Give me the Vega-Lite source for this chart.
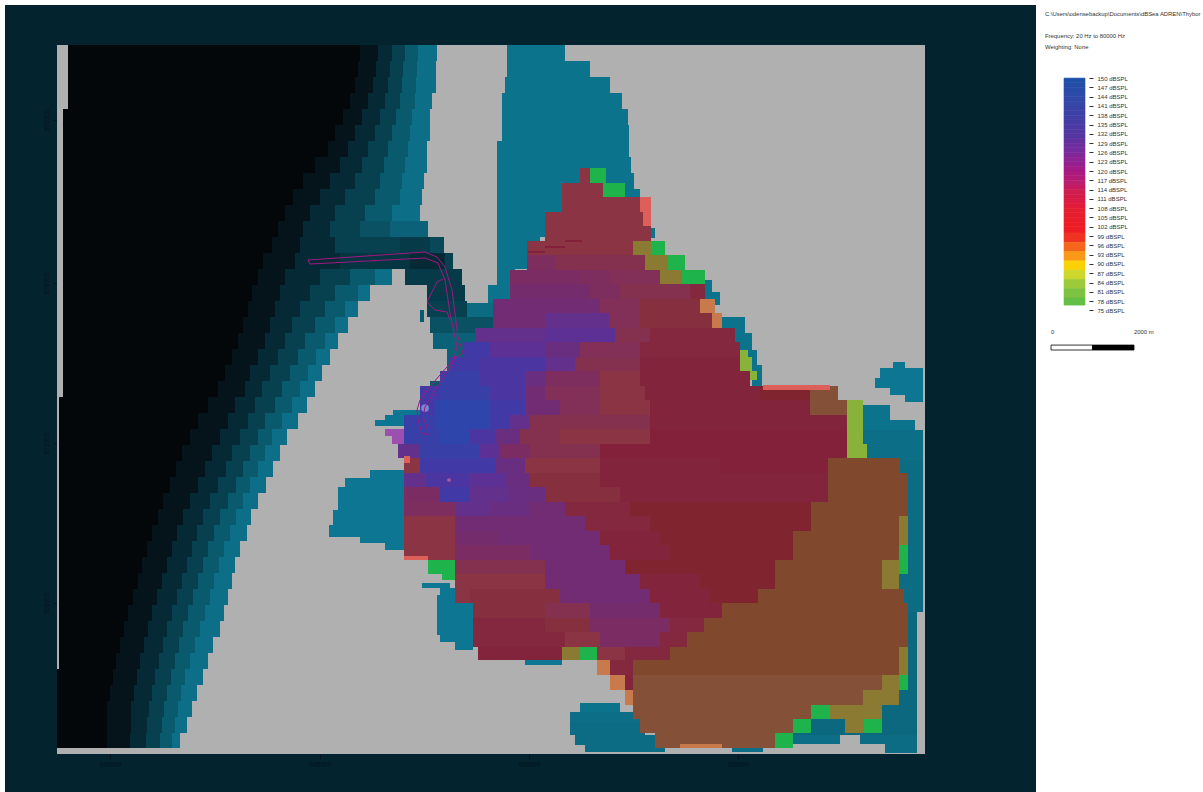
{"$schema":"https://vega.github.io/schema/vega-lite/v6.json","padding":{"left":5,"top":5,"right":0,"bottom":0},"autosize":{"type":"pad"},"background":"white","spacing":0,"bounds":"flush","config":{"view":{"stroke":null},"axis":{"grid":false,"domain":false,"title":null,"labelOverlap":false,"labelBound":false,"labelFlush":false}},"hconcat":[{"width":1031,"height":787,"view":{"fill":"#03232f","stroke":null},"resolve":{"scale":{"color":"independent"}},"layer":[
{"data":{"values":[{"e":57,"e2":925,"n":45,"n2":754}]},"mark":{"type":"rect","color":"#b0b0b0"},"encoding":{"x":{"field":"e","type":"quantitative","scale":{"domain":[5,1036],"nice":false,"zero":false},"axis":{"orient":"bottom","offset":-38,"values":[110,320,529,738],"tickSize":5,"tickColor":"#02141c","labelColor":"#02141c","labelFontSize":6.5,"labelFont":"Liberation Sans","labelPadding":2,"labelExpr":"format(640000+round((datum.value-110)/209)*5000,'d')"}},"x2":{"field":"e2"},"y":{"field":"n","type":"quantitative","scale":{"domain":[5,792],"nice":false,"zero":false,"reverse":true},"axis":{"orient":"left","offset":-52,"values":[120,283,443,603],"tickSize":4,"tickColor":"#02141c","labelColor":"#02141c","labelFontSize":6.5,"labelFont":"Liberation Sans","labelAngle":-90,"labelPadding":4,"labelAlign":"center","labelBaseline":"bottom","labelExpr":"format(880000-round((datum.value-120)/161)*4000,'d')"}},"y2":{"field":"n2"}}},
{"data":{"values":[
{"e":68,"e2":360,"n":45,"n2":61,"d":100},{"e":360,"e2":378,"n":45,"n2":61,"d":80},{"e":378,"e2":392,"n":45,"n2":61,"d":60},{"e":392,"e2":405,"n":45,"n2":61,"d":40},{"e":405,"e2":418,"n":45,"n2":61,"d":25},{"e":418,"e2":437,"n":45,"n2":61,"d":12},
{"e":68,"e2":358,"n":61,"n2":77,"d":100},{"e":358,"e2":376,"n":61,"n2":77,"d":80},{"e":376,"e2":390,"n":61,"n2":77,"d":60},{"e":390,"e2":403,"n":61,"n2":77,"d":40},{"e":403,"e2":417,"n":61,"n2":77,"d":25},{"e":417,"e2":436,"n":61,"n2":77,"d":12},
{"e":68,"e2":355,"n":77,"n2":93,"d":100},{"e":355,"e2":373,"n":77,"n2":93,"d":80},{"e":373,"e2":388,"n":77,"n2":93,"d":60},{"e":388,"e2":402,"n":77,"n2":93,"d":40},{"e":402,"e2":416,"n":77,"n2":93,"d":25},{"e":416,"e2":436,"n":77,"n2":93,"d":12},
{"e":68,"e2":350,"n":93,"n2":109,"d":100},{"e":350,"e2":368,"n":93,"n2":109,"d":80},{"e":368,"e2":385,"n":93,"n2":109,"d":60},{"e":385,"e2":400,"n":93,"n2":109,"d":40},{"e":400,"e2":415,"n":93,"n2":109,"d":25},{"e":415,"e2":432,"n":93,"n2":109,"d":12},
{"e":63,"e2":343,"n":109,"n2":125,"d":100},{"e":343,"e2":362,"n":109,"n2":125,"d":80},{"e":362,"e2":380,"n":109,"n2":125,"d":60},{"e":380,"e2":396,"n":109,"n2":125,"d":40},{"e":396,"e2":412,"n":109,"n2":125,"d":25},{"e":412,"e2":430,"n":109,"n2":125,"d":12},
{"e":63,"e2":335,"n":125,"n2":141,"d":100},{"e":335,"e2":355,"n":125,"n2":141,"d":80},{"e":355,"e2":375,"n":125,"n2":141,"d":60},{"e":375,"e2":392,"n":125,"n2":141,"d":40},{"e":392,"e2":410,"n":125,"n2":141,"d":25},{"e":410,"e2":430,"n":125,"n2":141,"d":12},
{"e":63,"e2":328,"n":141,"n2":157,"d":100},{"e":328,"e2":348,"n":141,"n2":157,"d":80},{"e":348,"e2":368,"n":141,"n2":157,"d":60},{"e":368,"e2":388,"n":141,"n2":157,"d":40},{"e":388,"e2":408,"n":141,"n2":157,"d":25},{"e":408,"e2":427,"n":141,"n2":157,"d":12},
{"e":63,"e2":315,"n":157,"n2":173,"d":100},{"e":315,"e2":340,"n":157,"n2":173,"d":80},{"e":340,"e2":362,"n":157,"n2":173,"d":60},{"e":362,"e2":384,"n":157,"n2":173,"d":40},{"e":384,"e2":405,"n":157,"n2":173,"d":25},{"e":405,"e2":427,"n":157,"n2":173,"d":12},
{"e":63,"e2":303,"n":173,"n2":189,"d":100},{"e":303,"e2":330,"n":173,"n2":189,"d":80},{"e":330,"e2":355,"n":173,"n2":189,"d":60},{"e":355,"e2":380,"n":173,"n2":189,"d":40},{"e":380,"e2":402,"n":173,"n2":189,"d":25},{"e":402,"e2":424,"n":173,"n2":189,"d":12},
{"e":63,"e2":293,"n":189,"n2":205,"d":100},{"e":293,"e2":320,"n":189,"n2":205,"d":80},{"e":320,"e2":345,"n":189,"n2":205,"d":60},{"e":345,"e2":375,"n":189,"n2":205,"d":40},{"e":375,"e2":400,"n":189,"n2":205,"d":25},{"e":400,"e2":422,"n":189,"n2":205,"d":12},
{"e":63,"e2":285,"n":205,"n2":221,"d":100},{"e":285,"e2":310,"n":205,"n2":221,"d":80},{"e":310,"e2":335,"n":205,"n2":221,"d":60},{"e":335,"e2":365,"n":205,"n2":221,"d":40},{"e":365,"e2":392,"n":205,"n2":221,"d":25},{"e":392,"e2":420,"n":205,"n2":221,"d":12},
{"e":63,"e2":278,"n":221,"n2":237,"d":100},{"e":278,"e2":303,"n":221,"n2":237,"d":80},{"e":303,"e2":330,"n":221,"n2":237,"d":60},{"e":330,"e2":360,"n":221,"n2":237,"d":40},{"e":360,"e2":390,"n":221,"n2":237,"d":30},{"e":390,"e2":428,"n":221,"n2":237,"d":20},
{"e":63,"e2":272,"n":237,"n2":253,"d":100},{"e":272,"e2":300,"n":237,"n2":253,"d":80},{"e":300,"e2":335,"n":237,"n2":253,"d":60},{"e":335,"e2":400,"n":237,"n2":253,"d":40},{"e":400,"e2":430,"n":237,"n2":253,"d":45},{"e":430,"e2":444,"n":237,"n2":253,"d":35},
{"e":63,"e2":263,"n":253,"n2":269,"d":100},{"e":263,"e2":295,"n":253,"n2":269,"d":80},{"e":295,"e2":340,"n":253,"n2":269,"d":60},{"e":340,"e2":410,"n":253,"n2":269,"d":50},{"e":410,"e2":445,"n":253,"n2":269,"d":60},{"e":445,"e2":453,"n":253,"n2":269,"d":40},
{"e":63,"e2":258,"n":269,"n2":285,"d":100},{"e":258,"e2":285,"n":269,"n2":285,"d":80},{"e":285,"e2":320,"n":269,"n2":285,"d":60},{"e":320,"e2":350,"n":269,"n2":285,"d":40},{"e":350,"e2":375,"n":269,"n2":285,"d":25},{"e":375,"e2":392,"n":269,"n2":285,"d":12},
{"e":63,"e2":252,"n":285,"n2":301,"d":100},{"e":252,"e2":280,"n":285,"n2":301,"d":80},{"e":280,"e2":310,"n":285,"n2":301,"d":60},{"e":310,"e2":335,"n":285,"n2":301,"d":40},{"e":335,"e2":358,"n":285,"n2":301,"d":25},{"e":358,"e2":370,"n":285,"n2":301,"d":12},
{"e":63,"e2":248,"n":301,"n2":317,"d":100},{"e":248,"e2":275,"n":301,"n2":317,"d":80},{"e":275,"e2":300,"n":301,"n2":317,"d":60},{"e":300,"e2":325,"n":301,"n2":317,"d":40},{"e":325,"e2":345,"n":301,"n2":317,"d":25},{"e":345,"e2":358,"n":301,"n2":317,"d":12},
{"e":63,"e2":243,"n":317,"n2":333,"d":100},{"e":243,"e2":270,"n":317,"n2":333,"d":80},{"e":270,"e2":292,"n":317,"n2":333,"d":60},{"e":292,"e2":315,"n":317,"n2":333,"d":40},{"e":315,"e2":335,"n":317,"n2":333,"d":25},{"e":335,"e2":348,"n":317,"n2":333,"d":12},
{"e":63,"e2":238,"n":333,"n2":349,"d":100},{"e":238,"e2":265,"n":333,"n2":349,"d":80},{"e":265,"e2":285,"n":333,"n2":349,"d":60},{"e":285,"e2":305,"n":333,"n2":349,"d":40},{"e":305,"e2":325,"n":333,"n2":349,"d":25},{"e":325,"e2":338,"n":333,"n2":349,"d":12},
{"e":63,"e2":232,"n":349,"n2":365,"d":100},{"e":232,"e2":258,"n":349,"n2":365,"d":80},{"e":258,"e2":278,"n":349,"n2":365,"d":60},{"e":278,"e2":298,"n":349,"n2":365,"d":40},{"e":298,"e2":316,"n":349,"n2":365,"d":25},{"e":316,"e2":330,"n":349,"n2":365,"d":12},
{"e":63,"e2":225,"n":365,"n2":381,"d":100},{"e":225,"e2":250,"n":365,"n2":381,"d":80},{"e":250,"e2":270,"n":365,"n2":381,"d":60},{"e":270,"e2":290,"n":365,"n2":381,"d":40},{"e":290,"e2":308,"n":365,"n2":381,"d":25},{"e":308,"e2":322,"n":365,"n2":381,"d":12},
{"e":63,"e2":218,"n":381,"n2":397,"d":100},{"e":218,"e2":245,"n":381,"n2":397,"d":80},{"e":245,"e2":262,"n":381,"n2":397,"d":60},{"e":262,"e2":282,"n":381,"n2":397,"d":40},{"e":282,"e2":300,"n":381,"n2":397,"d":25},{"e":300,"e2":315,"n":381,"n2":397,"d":12},
{"e":59,"e2":208,"n":397,"n2":413,"d":100},{"e":208,"e2":235,"n":397,"n2":413,"d":80},{"e":235,"e2":255,"n":397,"n2":413,"d":60},{"e":255,"e2":275,"n":397,"n2":413,"d":40},{"e":275,"e2":292,"n":397,"n2":413,"d":25},{"e":292,"e2":307,"n":397,"n2":413,"d":12},
{"e":59,"e2":198,"n":413,"n2":429,"d":100},{"e":198,"e2":228,"n":413,"n2":429,"d":80},{"e":228,"e2":248,"n":413,"n2":429,"d":60},{"e":248,"e2":265,"n":413,"n2":429,"d":40},{"e":265,"e2":282,"n":413,"n2":429,"d":25},{"e":282,"e2":298,"n":413,"n2":429,"d":12},
{"e":59,"e2":190,"n":429,"n2":445,"d":100},{"e":190,"e2":220,"n":429,"n2":445,"d":80},{"e":220,"e2":240,"n":429,"n2":445,"d":60},{"e":240,"e2":258,"n":429,"n2":445,"d":40},{"e":258,"e2":272,"n":429,"n2":445,"d":25},{"e":272,"e2":287,"n":429,"n2":445,"d":12},
{"e":59,"e2":182,"n":445,"n2":461,"d":100},{"e":182,"e2":212,"n":445,"n2":461,"d":80},{"e":212,"e2":232,"n":445,"n2":461,"d":60},{"e":232,"e2":250,"n":445,"n2":461,"d":40},{"e":250,"e2":265,"n":445,"n2":461,"d":25},{"e":265,"e2":280,"n":445,"n2":461,"d":12},
{"e":59,"e2":176,"n":461,"n2":477,"d":100},{"e":176,"e2":205,"n":461,"n2":477,"d":80},{"e":205,"e2":226,"n":461,"n2":477,"d":60},{"e":226,"e2":243,"n":461,"n2":477,"d":40},{"e":243,"e2":258,"n":461,"n2":477,"d":25},{"e":258,"e2":273,"n":461,"n2":477,"d":12},
{"e":59,"e2":170,"n":477,"n2":493,"d":100},{"e":170,"e2":198,"n":477,"n2":493,"d":80},{"e":198,"e2":218,"n":477,"n2":493,"d":60},{"e":218,"e2":236,"n":477,"n2":493,"d":40},{"e":236,"e2":250,"n":477,"n2":493,"d":25},{"e":250,"e2":266,"n":477,"n2":493,"d":12},
{"e":59,"e2":163,"n":493,"n2":509,"d":100},{"e":163,"e2":190,"n":493,"n2":509,"d":80},{"e":190,"e2":210,"n":493,"n2":509,"d":60},{"e":210,"e2":228,"n":493,"n2":509,"d":40},{"e":228,"e2":243,"n":493,"n2":509,"d":25},{"e":243,"e2":258,"n":493,"n2":509,"d":12},
{"e":59,"e2":158,"n":509,"n2":525,"d":100},{"e":158,"e2":183,"n":509,"n2":525,"d":80},{"e":183,"e2":203,"n":509,"n2":525,"d":60},{"e":203,"e2":220,"n":509,"n2":525,"d":40},{"e":220,"e2":236,"n":509,"n2":525,"d":25},{"e":236,"e2":251,"n":509,"n2":525,"d":12},
{"e":59,"e2":152,"n":525,"n2":541,"d":100},{"e":152,"e2":177,"n":525,"n2":541,"d":80},{"e":177,"e2":197,"n":525,"n2":541,"d":60},{"e":197,"e2":214,"n":525,"n2":541,"d":40},{"e":214,"e2":230,"n":525,"n2":541,"d":25},{"e":230,"e2":247,"n":525,"n2":541,"d":12},
{"e":59,"e2":147,"n":541,"n2":557,"d":100},{"e":147,"e2":172,"n":541,"n2":557,"d":80},{"e":172,"e2":192,"n":541,"n2":557,"d":60},{"e":192,"e2":208,"n":541,"n2":557,"d":40},{"e":208,"e2":224,"n":541,"n2":557,"d":25},{"e":224,"e2":240,"n":541,"n2":557,"d":12},
{"e":59,"e2":142,"n":557,"n2":573,"d":100},{"e":142,"e2":167,"n":557,"n2":573,"d":80},{"e":167,"e2":187,"n":557,"n2":573,"d":60},{"e":187,"e2":203,"n":557,"n2":573,"d":40},{"e":203,"e2":219,"n":557,"n2":573,"d":25},{"e":219,"e2":235,"n":557,"n2":573,"d":12},
{"e":59,"e2":138,"n":573,"n2":589,"d":100},{"e":138,"e2":162,"n":573,"n2":589,"d":80},{"e":162,"e2":182,"n":573,"n2":589,"d":60},{"e":182,"e2":198,"n":573,"n2":589,"d":40},{"e":198,"e2":214,"n":573,"n2":589,"d":25},{"e":214,"e2":232,"n":573,"n2":589,"d":12},
{"e":59,"e2":133,"n":589,"n2":605,"d":100},{"e":133,"e2":157,"n":589,"n2":605,"d":80},{"e":157,"e2":177,"n":589,"n2":605,"d":60},{"e":177,"e2":193,"n":589,"n2":605,"d":40},{"e":193,"e2":210,"n":589,"n2":605,"d":25},{"e":210,"e2":228,"n":589,"n2":605,"d":12},
{"e":59,"e2":128,"n":605,"n2":621,"d":100},{"e":128,"e2":152,"n":605,"n2":621,"d":80},{"e":152,"e2":172,"n":605,"n2":621,"d":60},{"e":172,"e2":188,"n":605,"n2":621,"d":40},{"e":188,"e2":205,"n":605,"n2":621,"d":25},{"e":205,"e2":224,"n":605,"n2":621,"d":12},
{"e":59,"e2":124,"n":621,"n2":637,"d":100},{"e":124,"e2":148,"n":621,"n2":637,"d":80},{"e":148,"e2":167,"n":621,"n2":637,"d":60},{"e":167,"e2":183,"n":621,"n2":637,"d":40},{"e":183,"e2":200,"n":621,"n2":637,"d":25},{"e":200,"e2":220,"n":621,"n2":637,"d":12},
{"e":59,"e2":120,"n":637,"n2":653,"d":100},{"e":120,"e2":144,"n":637,"n2":653,"d":80},{"e":144,"e2":163,"n":637,"n2":653,"d":60},{"e":163,"e2":179,"n":637,"n2":653,"d":40},{"e":179,"e2":195,"n":637,"n2":653,"d":25},{"e":195,"e2":213,"n":637,"n2":653,"d":12},
{"e":59,"e2":116,"n":653,"n2":669,"d":100},{"e":116,"e2":140,"n":653,"n2":669,"d":80},{"e":140,"e2":159,"n":653,"n2":669,"d":60},{"e":159,"e2":175,"n":653,"n2":669,"d":40},{"e":175,"e2":190,"n":653,"n2":669,"d":25},{"e":190,"e2":208,"n":653,"n2":669,"d":12},
{"e":57,"e2":113,"n":669,"n2":685,"d":100},{"e":113,"e2":137,"n":669,"n2":685,"d":80},{"e":137,"e2":155,"n":669,"n2":685,"d":60},{"e":155,"e2":171,"n":669,"n2":685,"d":40},{"e":171,"e2":185,"n":669,"n2":685,"d":25},{"e":185,"e2":203,"n":669,"n2":685,"d":12},
{"e":57,"e2":110,"n":685,"n2":701,"d":100},{"e":110,"e2":134,"n":685,"n2":701,"d":80},{"e":134,"e2":152,"n":685,"n2":701,"d":60},{"e":152,"e2":167,"n":685,"n2":701,"d":40},{"e":167,"e2":181,"n":685,"n2":701,"d":25},{"e":181,"e2":197,"n":685,"n2":701,"d":12},
{"e":57,"e2":107,"n":701,"n2":717,"d":100},{"e":107,"e2":131,"n":701,"n2":717,"d":80},{"e":131,"e2":149,"n":701,"n2":717,"d":60},{"e":149,"e2":164,"n":701,"n2":717,"d":40},{"e":164,"e2":178,"n":701,"n2":717,"d":25},{"e":178,"e2":192,"n":701,"n2":717,"d":12},
{"e":57,"e2":107,"n":717,"n2":733,"d":100},{"e":107,"e2":131,"n":717,"n2":733,"d":80},{"e":131,"e2":147,"n":717,"n2":733,"d":60},{"e":147,"e2":162,"n":717,"n2":733,"d":40},{"e":162,"e2":175,"n":717,"n2":733,"d":25},{"e":175,"e2":187,"n":717,"n2":733,"d":12},
{"e":57,"e2":107,"n":733,"n2":748,"d":100},{"e":107,"e2":130,"n":733,"n2":748,"d":80},{"e":130,"e2":146,"n":733,"n2":748,"d":60},{"e":146,"e2":160,"n":733,"n2":748,"d":40},{"e":160,"e2":172,"n":733,"n2":748,"d":25},{"e":172,"e2":180,"n":733,"n2":748,"d":12},
{"e":405,"e2":462,"n":269,"n2":285,"d":45},{"e":427,"e2":465,"n":285,"n2":301,"d":45},{"e":427,"e2":467,"n":301,"n2":317,"d":40},{"e":430,"e2":495,"n":317,"n2":333,"d":30},{"e":433,"e2":480,"n":333,"n2":349,"d":20},{"e":447,"e2":470,"n":349,"n2":365,"d":20},{"e":447,"e2":470,"n":365,"n2":381,"d":20},{"e":430,"e2":450,"n":381,"n2":397,"d":25},
{"e":467,"e2":495,"n":303,"n2":317,"d":15},{"e":420,"e2":424,"n":310,"n2":322,"d":25},
{"e":507,"e2":565,"n":45,"n2":61,"d":10},{"e":507,"e2":590,"n":61,"n2":77,"d":10},{"e":505,"e2":610,"n":77,"n2":93,"d":10},{"e":502,"e2":622,"n":93,"n2":109,"d":10},{"e":502,"e2":628,"n":109,"n2":125,"d":10},{"e":502,"e2":629,"n":125,"n2":141,"d":10},{"e":497,"e2":629,"n":141,"n2":157,"d":10},{"e":497,"e2":631,"n":157,"n2":173,"d":10},{"e":497,"e2":634,"n":173,"n2":189,"d":10},{"e":497,"e2":640,"n":189,"n2":205,"d":10},{"e":497,"e2":570,"n":205,"n2":221,"d":10},{"e":497,"e2":560,"n":221,"n2":237,"d":10},{"e":497,"e2":540,"n":237,"n2":253,"d":10},{"e":497,"e2":530,"n":253,"n2":269,"d":10},{"e":497,"e2":515,"n":269,"n2":285,"d":10},{"e":488,"e2":512,"n":285,"n2":303,"d":10},
{"e":651,"e2":655,"n":228,"n2":238,"d":10},{"e":700,"e2":712,"n":280,"n2":292,"d":10},{"e":705,"e2":720,"n":292,"n2":305,"d":10},{"e":722,"e2":745,"n":317,"n2":333,"d":10},{"e":735,"e2":752,"n":333,"n2":350,"d":10},{"e":745,"e2":757,"n":350,"n2":365,"d":10},{"e":752,"e2":762,"n":365,"n2":386,"d":10},
{"e":893,"e2":905,"n":362,"n2":368,"d":8},{"e":880,"e2":923,"n":368,"n2":378,"d":8},{"e":875,"e2":923,"n":378,"n2":388,"d":8},{"e":890,"e2":923,"n":388,"n2":395,"d":8},{"e":905,"e2":923,"n":395,"n2":402,"d":8},
{"e":863,"e2":890,"n":405,"n2":420,"d":10},{"e":863,"e2":915,"n":420,"n2":430,"d":10},{"e":863,"e2":923,"n":430,"n2":460,"d":12},{"e":890,"e2":923,"n":460,"n2":612,"d":14},{"e":890,"e2":917,"n":612,"n2":735,"d":16},
{"e":793,"e2":917,"n":700,"n2":735,"d":16},{"e":790,"e2":840,"n":735,"n2":744,"d":12},{"e":860,"e2":917,"n":735,"n2":744,"d":14},{"e":885,"e2":917,"n":744,"n2":753,"d":14},
{"e":580,"e2":620,"n":703,"n2":712,"d":10},{"e":570,"e2":640,"n":712,"n2":722,"d":12},{"e":570,"e2":645,"n":722,"n2":735,"d":14},{"e":575,"e2":655,"n":735,"n2":745,"d":14},{"e":585,"e2":665,"n":745,"n2":752,"d":14},{"e":732,"e2":763,"n":745,"n2":752,"d":12},
{"e":370,"e2":410,"n":470,"n2":478,"d":8},{"e":345,"e2":410,"n":478,"n2":487,"d":8},{"e":338,"e2":410,"n":487,"n2":510,"d":8},{"e":333,"e2":410,"n":510,"n2":525,"d":8},{"e":329,"e2":410,"n":525,"n2":537,"d":8},{"e":360,"e2":410,"n":537,"n2":543,"d":8},{"e":385,"e2":410,"n":543,"n2":550,"d":8},
{"e":393,"e2":420,"n":410,"n2":415,"d":8},{"e":385,"e2":420,"n":415,"n2":420,"d":8},{"e":375,"e2":410,"n":420,"n2":426,"d":8},
{"e":422,"e2":450,"n":583,"n2":588,"d":8},{"e":440,"e2":473,"n":588,"n2":595,"d":8},{"e":437,"e2":473,"n":595,"n2":635,"d":8},{"e":440,"e2":473,"n":635,"n2":642,"d":8},{"e":455,"e2":473,"n":642,"n2":650,"d":8},{"e":525,"e2":562,"n":658,"n2":665,"d":8}
]},"mark":{"type":"rect"},"encoding":{"x":{"field":"e","type":"quantitative"},"x2":{"field":"e2"},"y":{"field":"n","type":"quantitative"},"y2":{"field":"n2"},"color":{"field":"d","type":"quantitative","legend":null,"scale":{"domain":[8,12,25,40,60,80,100],"range":["#0d7793","#0c6f87","#0a5a6e","#07404f","#052a36","#05141b","#03070a"]}}}},
{"data":{"values":[
{"e":580,"e2":592,"n":168,"n2":183,"s":112},{"e":590,"e2":606,"n":168,"n2":183,"s":78},
{"e":562,"e2":603,"n":183,"n2":197,"s":112},{"e":603,"e2":625,"n":183,"n2":197,"s":78},
{"e":562,"e2":640,"n":197,"n2":212,"s":112},{"e":640,"e2":651,"n":197,"n2":212,"s":96},
{"e":545,"e2":643,"n":212,"n2":226,"s":112},{"e":643,"e2":651,"n":212,"n2":226,"s":96},
{"e":545,"e2":651,"n":226,"n2":241,"s":112},
{"e":527,"e2":633,"n":241,"n2":255,"s":112},{"e":633,"e2":651,"n":241,"n2":255,"s":88},{"e":651,"e2":665,"n":241,"n2":255,"s":78},
{"e":527,"e2":555,"n":255,"n2":270,"s":118},{"e":555,"e2":645,"n":255,"n2":270,"s":114},{"e":645,"e2":668,"n":255,"n2":270,"s":88},{"e":668,"e2":685,"n":255,"n2":270,"s":78},
{"e":510,"e2":580,"n":270,"n2":284,"s":120},{"e":580,"e2":610,"n":270,"n2":284,"s":118},{"e":610,"e2":660,"n":270,"n2":284,"s":116},{"e":660,"e2":682,"n":270,"n2":284,"s":88},{"e":682,"e2":705,"n":270,"n2":284,"s":78},
{"e":510,"e2":545,"n":284,"n2":299,"s":122},{"e":545,"e2":590,"n":284,"n2":299,"s":122},{"e":590,"e2":620,"n":284,"n2":299,"s":118},{"e":620,"e2":690,"n":284,"n2":299,"s":114},{"e":690,"e2":705,"n":284,"n2":299,"s":108},
{"e":493,"e2":600,"n":299,"n2":313,"s":124},{"e":600,"e2":640,"n":299,"n2":313,"s":116},{"e":640,"e2":700,"n":299,"n2":313,"s":110},{"e":700,"e2":715,"n":299,"n2":313,"s":92},
{"e":493,"e2":545,"n":313,"n2":328,"s":124},{"e":545,"e2":610,"n":313,"n2":328,"s":128},{"e":610,"e2":640,"n":313,"n2":328,"s":116},{"e":640,"e2":712,"n":313,"n2":328,"s":110},{"e":712,"e2":722,"n":313,"n2":328,"s":92},
{"e":475,"e2":545,"n":328,"n2":342,"s":128},{"e":545,"e2":615,"n":328,"n2":342,"s":130},{"e":615,"e2":650,"n":328,"n2":342,"s":114},{"e":650,"e2":735,"n":328,"n2":342,"s":108},
{"e":463,"e2":490,"n":342,"n2":357,"s":136},{"e":490,"e2":545,"n":342,"n2":357,"s":130},{"e":545,"e2":580,"n":342,"n2":357,"s":126},{"e":580,"e2":640,"n":342,"n2":357,"s":116},{"e":640,"e2":740,"n":342,"n2":357,"s":108},{"e":740,"e2":748,"n":350,"n2":357,"s":84},
{"e":450,"e2":480,"n":357,"n2":371,"s":136},{"e":480,"e2":545,"n":357,"n2":371,"s":134},{"e":545,"e2":575,"n":357,"n2":371,"s":128},{"e":575,"e2":640,"n":357,"n2":371,"s":114},{"e":640,"e2":740,"n":357,"n2":371,"s":106},{"e":740,"e2":752,"n":357,"n2":371,"s":84},
{"e":440,"e2":480,"n":371,"n2":386,"s":138},{"e":480,"e2":525,"n":371,"n2":386,"s":134},{"e":525,"e2":545,"n":371,"n2":386,"s":126},{"e":545,"e2":600,"n":371,"n2":386,"s":118},{"e":600,"e2":640,"n":371,"n2":386,"s":112},{"e":640,"e2":750,"n":371,"n2":386,"s":106},{"e":750,"e2":757,"n":371,"n2":380,"s":84},
{"e":420,"e2":440,"n":386,"n2":400,"s":136},{"e":440,"e2":490,"n":386,"n2":400,"s":138},{"e":490,"e2":525,"n":386,"n2":400,"s":134},{"e":525,"e2":545,"n":386,"n2":400,"s":124},{"e":545,"e2":600,"n":386,"n2":400,"s":116},{"e":600,"e2":645,"n":386,"n2":400,"s":112},{"e":645,"e2":760,"n":386,"n2":400,"s":106},{"e":760,"e2":810,"n":386,"n2":400,"s":104},{"e":810,"e2":838,"n":386,"n2":400,"s":102},
{"e":763,"e2":830,"n":385,"n2":390,"s":96},
{"e":420,"e2":435,"n":400,"n2":415,"s":136},{"e":435,"e2":490,"n":400,"n2":415,"s":140},{"e":490,"e2":525,"n":400,"n2":415,"s":136},{"e":525,"e2":560,"n":400,"n2":415,"s":124},{"e":560,"e2":600,"n":400,"n2":415,"s":116},{"e":600,"e2":650,"n":400,"n2":415,"s":112},{"e":650,"e2":810,"n":400,"n2":415,"s":106},{"e":810,"e2":847,"n":400,"n2":415,"s":102},{"e":847,"e2":863,"n":400,"n2":415,"s":84},
{"e":404,"e2":435,"n":415,"n2":429,"s":138},{"e":435,"e2":490,"n":415,"n2":429,"s":140},{"e":490,"e2":510,"n":415,"n2":429,"s":136},{"e":510,"e2":530,"n":415,"n2":429,"s":128},{"e":530,"e2":650,"n":415,"n2":429,"s":114},{"e":650,"e2":847,"n":415,"n2":429,"s":106},{"e":847,"e2":863,"n":415,"n2":429,"s":84},
{"e":385,"e2":404,"n":429,"n2":436,"s":146},{"e":392,"e2":404,"n":436,"n2":444,"s":146},{"e":404,"e2":440,"n":429,"n2":444,"s":138},{"e":440,"e2":470,"n":429,"n2":444,"s":140},{"e":470,"e2":495,"n":429,"n2":444,"s":134},{"e":495,"e2":520,"n":429,"n2":444,"s":126},{"e":520,"e2":560,"n":429,"n2":444,"s":114},{"e":560,"e2":650,"n":429,"n2":444,"s":112},{"e":650,"e2":847,"n":429,"n2":444,"s":105},{"e":847,"e2":863,"n":429,"n2":444,"s":84},
{"e":398,"e2":420,"n":444,"n2":458,"s":128},{"e":420,"e2":480,"n":444,"n2":458,"s":138},{"e":480,"e2":500,"n":444,"n2":458,"s":130},{"e":500,"e2":530,"n":444,"n2":458,"s":120},{"e":530,"e2":600,"n":444,"n2":458,"s":114},{"e":600,"e2":847,"n":444,"n2":458,"s":105},{"e":847,"e2":867,"n":444,"n2":458,"s":84},
{"e":404,"e2":420,"n":458,"n2":473,"s":112},{"e":420,"e2":495,"n":458,"n2":473,"s":136},{"e":495,"e2":525,"n":458,"n2":473,"s":126},{"e":525,"e2":600,"n":458,"n2":473,"s":112},{"e":600,"e2":720,"n":458,"n2":473,"s":106},{"e":720,"e2":828,"n":458,"n2":473,"s":105},{"e":828,"e2":900,"n":458,"n2":473,"s":100},
{"e":404,"e2":425,"n":473,"n2":487,"s":128},{"e":425,"e2":470,"n":473,"n2":487,"s":134},{"e":470,"e2":505,"n":473,"n2":487,"s":130},{"e":505,"e2":530,"n":473,"n2":487,"s":126},{"e":530,"e2":600,"n":473,"n2":487,"s":110},{"e":600,"e2":828,"n":473,"n2":487,"s":106},{"e":828,"e2":908,"n":473,"n2":487,"s":100},
{"e":404,"e2":440,"n":487,"n2":502,"s":120},{"e":440,"e2":470,"n":487,"n2":502,"s":136},{"e":470,"e2":510,"n":487,"n2":502,"s":128},{"e":510,"e2":545,"n":487,"n2":502,"s":126},{"e":545,"e2":620,"n":487,"n2":502,"s":110},{"e":620,"e2":828,"n":487,"n2":502,"s":106},{"e":828,"e2":908,"n":487,"n2":502,"s":100},
{"e":404,"e2":455,"n":502,"n2":516,"s":118},{"e":455,"e2":490,"n":502,"n2":516,"s":128},{"e":490,"e2":530,"n":502,"n2":516,"s":126},{"e":530,"e2":565,"n":502,"n2":516,"s":124},{"e":565,"e2":630,"n":502,"n2":516,"s":108},{"e":630,"e2":811,"n":502,"n2":516,"s":104},{"e":811,"e2":908,"n":502,"n2":516,"s":100},
{"e":404,"e2":455,"n":516,"n2":531,"s":112},{"e":455,"e2":585,"n":516,"n2":531,"s":124},{"e":585,"e2":650,"n":516,"n2":531,"s":108},{"e":650,"e2":811,"n":516,"n2":531,"s":104},{"e":811,"e2":899,"n":516,"n2":531,"s":100},{"e":899,"e2":908,"n":516,"n2":531,"s":88},
{"e":404,"e2":455,"n":531,"n2":545,"s":112},{"e":455,"e2":500,"n":531,"n2":545,"s":122},{"e":500,"e2":600,"n":531,"n2":545,"s":124},{"e":600,"e2":660,"n":531,"n2":545,"s":106},{"e":660,"e2":793,"n":531,"n2":545,"s":104},{"e":793,"e2":899,"n":531,"n2":545,"s":100},{"e":899,"e2":908,"n":531,"n2":545,"s":88},
{"e":404,"e2":455,"n":545,"n2":556,"s":112},{"e":428,"e2":455,"n":556,"n2":560,"s":112},{"e":404,"e2":428,"n":556,"n2":560,"s":96},{"e":455,"e2":530,"n":545,"n2":560,"s":120},{"e":530,"e2":610,"n":545,"n2":560,"s":124},{"e":610,"e2":670,"n":545,"n2":560,"s":106},{"e":670,"e2":793,"n":545,"n2":560,"s":104},{"e":793,"e2":899,"n":545,"n2":560,"s":100},{"e":899,"e2":908,"n":545,"n2":560,"s":78},
{"e":428,"e2":455,"n":560,"n2":574,"s":78},{"e":455,"e2":545,"n":560,"n2":574,"s":114},{"e":545,"e2":625,"n":560,"n2":574,"s":124},{"e":625,"e2":775,"n":560,"n2":574,"s":104},{"e":775,"e2":882,"n":560,"n2":574,"s":100},{"e":882,"e2":899,"n":560,"n2":574,"s":88},{"e":899,"e2":908,"n":560,"n2":574,"s":78},
{"e":442,"e2":455,"n":574,"n2":580,"s":78},{"e":455,"e2":545,"n":574,"n2":589,"s":112},{"e":545,"e2":640,"n":574,"n2":589,"s":124},{"e":640,"e2":700,"n":574,"n2":589,"s":106},{"e":700,"e2":775,"n":574,"n2":589,"s":104},{"e":775,"e2":882,"n":574,"n2":589,"s":100},{"e":882,"e2":899,"n":574,"n2":589,"s":88},
{"e":455,"e2":470,"n":589,"n2":603,"s":112},{"e":470,"e2":560,"n":589,"n2":603,"s":110},{"e":560,"e2":650,"n":589,"n2":603,"s":124},{"e":650,"e2":710,"n":589,"n2":603,"s":106},{"e":710,"e2":758,"n":589,"n2":603,"s":104},{"e":758,"e2":904,"n":589,"n2":603,"s":100},
{"e":473,"e2":545,"n":603,"n2":618,"s":110},{"e":545,"e2":590,"n":603,"n2":618,"s":114},{"e":590,"e2":660,"n":603,"n2":618,"s":122},{"e":660,"e2":722,"n":603,"n2":618,"s":106},{"e":722,"e2":908,"n":603,"n2":618,"s":100},
{"e":473,"e2":545,"n":618,"n2":632,"s":108},{"e":545,"e2":590,"n":618,"n2":632,"s":110},{"e":590,"e2":670,"n":618,"n2":632,"s":120},{"e":670,"e2":704,"n":618,"n2":632,"s":108},{"e":704,"e2":908,"n":618,"n2":632,"s":100},
{"e":473,"e2":565,"n":632,"n2":647,"s":108},{"e":565,"e2":600,"n":632,"n2":647,"s":112},{"e":600,"e2":660,"n":632,"n2":647,"s":120},{"e":660,"e2":687,"n":632,"n2":647,"s":108},{"e":687,"e2":908,"n":632,"n2":647,"s":100},
{"e":478,"e2":562,"n":647,"n2":660,"s":106},{"e":562,"e2":580,"n":647,"n2":660,"s":88},{"e":580,"e2":597,"n":647,"n2":660,"s":78},{"e":597,"e2":625,"n":647,"n2":660,"s":112},{"e":625,"e2":670,"n":647,"n2":660,"s":108},{"e":670,"e2":899,"n":647,"n2":660,"s":100},{"e":899,"e2":908,"n":647,"n2":660,"s":88},
{"e":597,"e2":610,"n":660,"n2":675,"s":92},{"e":610,"e2":633,"n":660,"n2":675,"s":108},{"e":633,"e2":899,"n":660,"n2":675,"s":100},{"e":899,"e2":908,"n":660,"n2":675,"s":88},
{"e":610,"e2":625,"n":675,"n2":690,"s":92},{"e":625,"e2":633,"n":675,"n2":690,"s":106},{"e":633,"e2":882,"n":675,"n2":690,"s":102},{"e":882,"e2":899,"n":675,"n2":690,"s":88},{"e":899,"e2":908,"n":675,"n2":690,"s":78},
{"e":625,"e2":633,"n":690,"n2":705,"s":92},{"e":633,"e2":863,"n":690,"n2":705,"s":102},{"e":863,"e2":899,"n":690,"n2":705,"s":88},
{"e":633,"e2":811,"n":705,"n2":719,"s":102},{"e":811,"e2":830,"n":705,"n2":719,"s":78},{"e":830,"e2":882,"n":705,"n2":719,"s":88},
{"e":640,"e2":793,"n":719,"n2":733,"s":102},{"e":793,"e2":811,"n":719,"n2":733,"s":78},{"e":845,"e2":864,"n":719,"n2":733,"s":88},{"e":864,"e2":882,"n":719,"n2":733,"s":78},
{"e":655,"e2":775,"n":733,"n2":748,"s":102},{"e":775,"e2":793,"n":733,"n2":748,"s":78},{"e":680,"e2":722,"n":744,"n2":748,"s":92},
{"e":404,"e2":410,"n":456,"n2":463,"s":96},
{"e":528,"e2":545,"n":251,"n2":253,"s":105},{"e":545,"e2":565,"n":246,"n2":248,"s":105},{"e":565,"e2":582,"n":240,"n2":242,"s":105}
]},"mark":{"type":"rect"},"encoding":{"x":{"field":"e","type":"quantitative"},"x2":{"field":"e2"},"y":{"field":"n","type":"quantitative"},"y2":{"field":"n2"},"color":{"field":"s","type":"quantitative","legend":null,"scale":{"domain":[78,84,88,92,96,100,102,104,105,106,108,110,112,114,116,118,120,122,124,126,128,130,132,134,136,138,140,146],"range":["#1fb34c","#88b23a","#8a7a32","#c87a4c","#dc5f5a","#80482c","#855038","#80242f","#83203a","#82243c","#84283f","#86303f","#8a3444","#84304f","#823058","#7e2e5e","#7b2c62","#752c6c","#712c74","#6a2e80","#63308c","#5c3094","#55319a","#4b35a0","#413aa6","#3840a8","#2e46ab","#9c4fae"]}}}},
{"data":{"values":[{"e":425,"n":408}]},"mark":{"type":"point","filled":true,"color":"#7f8fd8","opacity":0.9,"size":60},"encoding":{"x":{"field":"e","type":"quantitative"},"y":{"field":"n","type":"quantitative"}}},
{"data":{"values":[{"e":449,"n":480}]},"mark":{"type":"point","filled":true,"color":"#b060a8","opacity":0.9,"size":14},"encoding":{"x":{"field":"e","type":"quantitative"},"y":{"field":"n","type":"quantitative"}}},
{"data":{"values":[
{"p":"a","i":1,"e":308,"n":260},{"p":"a","i":2,"e":425,"n":252},{"p":"a","i":3,"e":437,"n":257},{"p":"a","i":4,"e":445,"n":267},{"p":"a","i":5,"e":452,"n":290},{"p":"a","i":6,"e":458,"n":337},{"p":"a","i":7,"e":463,"n":353},{"p":"a","i":8,"e":455,"n":358},{"p":"a","i":9,"e":447,"n":367},{"p":"a","i":10,"e":433,"n":383},{"p":"a","i":11,"e":420,"n":400},{"p":"a","i":12,"e":417,"n":410},{"p":"a","i":13,"e":418,"n":420},{"p":"a","i":14,"e":422,"n":433},{"p":"a","i":15,"e":428,"n":435},{"p":"a","i":16,"e":427,"n":427},{"p":"a","i":17,"e":423,"n":417},{"p":"a","i":18,"e":425,"n":407},{"p":"a","i":19,"e":437,"n":387},{"p":"a","i":20,"e":453,"n":363},{"p":"a","i":21,"e":457,"n":347},{"p":"a","i":22,"e":450,"n":313},{"p":"a","i":23,"e":445,"n":280},{"p":"a","i":24,"e":438,"n":263},{"p":"a","i":25,"e":425,"n":258},{"p":"a","i":26,"e":310,"n":264},{"p":"a","i":27,"e":308,"n":260},
{"p":"b","i":1,"e":443,"n":279},{"p":"b","i":2,"e":437,"n":282},{"p":"b","i":3,"e":427,"n":302},{"p":"b","i":4,"e":435,"n":310},{"p":"b","i":5,"e":447,"n":312},{"p":"b","i":6,"e":450,"n":320}
]},"mark":{"type":"line","color":"#a01880","strokeWidth":1},"encoding":{"x":{"field":"e","type":"quantitative"},"y":{"field":"n","type":"quantitative"},"detail":{"field":"p"},"order":{"field":"i"}}}
]},
{"width":167,"height":787,"resolve":{"scale":{"color":"independent"}},"layer":[
{"data":{"values":[
{"db":150,"db2":148.5},{"db":148.5,"db2":147},{"db":147,"db2":145.5},{"db":145.5,"db2":144},{"db":144,"db2":142.5},{"db":142.5,"db2":141},{"db":141,"db2":139.5},{"db":139.5,"db2":138},{"db":138,"db2":136.5},{"db":136.5,"db2":135},{"db":135,"db2":133.5},{"db":133.5,"db2":132},{"db":132,"db2":130.5},{"db":130.5,"db2":129},{"db":129,"db2":127.5},{"db":127.5,"db2":126},{"db":126,"db2":124.5},{"db":124.5,"db2":123},{"db":123,"db2":121.5},{"db":121.5,"db2":120},{"db":120,"db2":118.5},{"db":118.5,"db2":117},{"db":117,"db2":115.5},{"db":115.5,"db2":114},{"db":114,"db2":112.5},{"db":112.5,"db2":111},{"db":111,"db2":109.5},{"db":109.5,"db2":108},{"db":108,"db2":106.5},{"db":106.5,"db2":105},{"db":105,"db2":103.5},{"db":103.5,"db2":102},{"db":102,"db2":100},{"db":100,"db2":97},{"db":97,"db2":94},{"db":94,"db2":91},{"db":91,"db2":88},{"db":88,"db2":85},{"db":85,"db2":82},{"db":82,"db2":79},{"db":79,"db2":76.7}
]},"mark":{"type":"rect","strokeWidth":0.6},"encoding":{"x":{"datum":313,"type":"quantitative","scale":{"domain":[-362,3663],"nice":false,"zero":false},"axis":null},"x2":{"datum":819},"y":{"field":"db","type":"quantitative","scale":{"domain":[-80.5,173.6],"nice":false,"zero":false},"axis":{"orient":"right","offset":-114,"labelOverlap":false,"tickCount":40,"values":[150,147,144,141,138,135,132,129,126,123,120,117,114,111,108,105,102,99,96,93,90,87,84,81,78,75],"tickSize":4,"tickColor":"#333333","labelColor":"#333333","labelFontSize":6,"labelFont":"Liberation Sans","labelPadding":4,"labelExpr":"datum.value+' dBSPL'"}},"y2":{"field":"db2"},"color":{"field":"db","type":"quantitative","legend":null,"scale":{"domain":[78,84,87,90,93,96,99,102,108,114,117,123,126,132,138,150],"range":["#5bbd47","#8cc63f","#bcd136","#f5e50d","#fba919","#f7781e","#f03a20","#ee1c24","#e51f30","#cf1f50","#b81f6f","#96208f","#80289a","#5535a0","#3f3fa5","#1f4fa8"]}},"stroke":{"field":"db","type":"quantitative","legend":null,"scale":{"domain":[78,84,87,90,93,96,99,102,108,114,117,123,126,132,138,150],"range":["#5bbd47","#8cc63f","#bcd136","#f5e50d","#fba919","#f7781e","#f03a20","#ee1c24","#e51f30","#cf1f50","#b81f6f","#96208f","#80289a","#5535a0","#3f3fa5","#1f4fa8"]}}}},
{"data":{"values":[{"from":0,"to":1000,"part":"white"},{"from":1000,"to":2000,"part":"black"}]},"mark":{"type":"rect","stroke":"#000000","strokeWidth":0.8},"encoding":{"x":{"field":"from","type":"quantitative"},"x2":{"field":"to"},"y":{"datum":63.8,"type":"quantitative"},"y2":{"datum":62.2},"color":{"field":"part","type":"nominal","legend":null,"scale":{"domain":["white","black"],"range":["#ffffff","#000000"]}}}},
{"data":{"values":[{"m":-145,"db":170.6,"t":"C:\\Users\\odensebackup\\Documents\\dBSea ADREN\\Thybor"},{"m":-145,"db":163.5,"t":"Frequency: 20 Hz to 80000 Hz"},{"m":-145,"db":160,"t":"Weighting: None"},{"m":0,"db":68,"t":"0"},{"m":2000,"db":68,"t":"2000 m"}]},"mark":{"type":"text","align":"left","baseline":"middle","font":"Liberation Sans","fontSize":5.9,"color":"#333333"},"encoding":{"x":{"field":"m","type":"quantitative"},"y":{"field":"db","type":"quantitative"},"text":{"field":"t"}}}
]}
]}
